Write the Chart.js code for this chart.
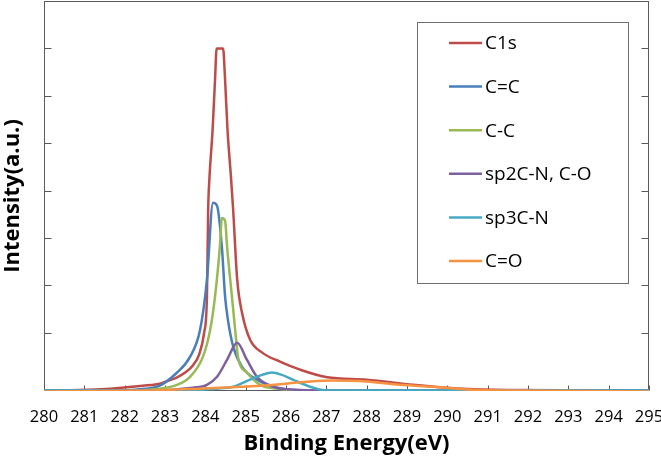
<!DOCTYPE html>
<html>
<head>
<meta charset="utf-8">
<script src="https://cdn.jsdelivr.net/npm/chart.js@4.4.1/dist/chart.umd.min.js"></script>
<style>
  html, body { margin: 0; padding: 0; background: #fff; }
</style>
</head>
<body>
<canvas id="xps" width="661" height="465"></canvas>
<script>
// XPS C1s spectrum, fitted components (intensity in arbitrary units)
var seriesNames = ['C1s', 'C=C', 'C-C', 'sp2C-N, C-O', 'sp3C-N', 'C=O'];
var seriesColors = ['#BE4B48', '#4A7EBB', '#98B954', '#7D60A0', '#46AAC5', '#F69240'];

var energyC1s = [280.0, 280.9, 281.65, 282.45, 282.9, 283.12, 283.3, 283.5, 283.7, 283.85, 283.97, 284.04, 284.07, 284.1, 284.18, 284.24, 284.28, 284.44, 284.49, 284.55, 284.64, 284.69, 284.79, 284.91, 285.11, 285.41, 285.85, 286.35, 287.02, 288.0, 289.15, 290.5, 291.75, 295.0];
var intensityC1s = [-0.22, -0.21, -0.18, -0.12, -0.07, 0.0, 0.06, 0.16, 0.32, 0.55, 1.0, 1.76, 3.59, 4.23, 5.28, 6.33, 7.0, 7.0, 6.33, 5.28, 4.23, 3.59, 2.12, 1.42, 0.85, 0.58, 0.39, 0.22, 0.06, 0.01, -0.1, -0.19, -0.21, -0.22];

var energyCC2 = [280.0, 281.65, 282.8, 283.3, 283.62, 283.87, 284.04, 284.19, 284.29, 284.41, 284.49, 284.56, 284.69, 284.91, 285.28, 285.78, 286.35, 295.0];
var intensityCC2 = [-0.22, -0.22, -0.14, 0.16, 0.49, 1.06, 2.12, 3.74, 3.68, 2.81, 1.76, 1.27, 0.71, 0.28, 0.01, -0.16, -0.22, -0.22];

var energyCC1 = [280.0, 281.9, 282.88, 283.3, 283.62, 283.94, 284.12, 284.24, 284.36, 284.41, 284.49, 284.54, 284.66, 284.74, 284.81, 285.03, 285.36, 285.78, 286.6, 295.0];
var intensityCC1 = [-0.22, -0.22, -0.18, -0.10, 0.07, 0.49, 1.06, 1.76, 2.81, 3.42, 3.36, 2.81, 1.76, 1.06, 0.49, 0.16, -0.10, -0.18, -0.22, -0.22];

var energySp2 = [280.0, 282.6, 283.69, 284.04, 284.29, 284.54, 284.79, 285.03, 285.28, 285.68, 286.17, 287.1, 295.0];
var intensitySp2 = [-0.22, -0.22, -0.16, -0.10, 0.07, 0.43, 0.79, 0.43, 0.07, -0.14, -0.20, -0.22, -0.22];

var energySp3 = [280.0, 283.4, 284.29, 284.69, 285.11, 285.41, 285.65, 285.9, 286.17, 286.6, 287.02, 295.0];
var intensitySp3 = [-0.22, -0.22, -0.18, -0.14, 0.01, 0.11, 0.16, 0.11, 0.01, -0.14, -0.22, -0.22];

var energyCO = [280.0, 282.6, 283.87, 284.93, 285.93, 286.6, 287.17, 288.0, 288.83, 289.65, 290.5, 291.55, 295.0];
var intensityCO = [-0.24, -0.22, -0.18, -0.14, -0.08, -0.03, -0.01, -0.03, -0.10, -0.14, -0.20, -0.22, -0.24];

var xTicks = { min: 280, max: 295, step: 1 };
var yTicks = { min: -0.23, max: 8, step: 1 };

var energies = [energyC1s, energyCC2, energyCC1, energySp2, energySp3, energyCO];
var intensities = [intensityC1s, intensityCC2, intensityCC1, intensitySp2, intensitySp3, intensityCO];

function toPoints(xs, ys) {
  return xs.map(function (x, i) { return { x: x, y: ys[i] }; });
}

var datasets = seriesNames.map(function (name, i) {
  return {
    label: name,
    data: toPoints(energies[i], intensities[i]),
    borderColor: seriesColors[i],
    backgroundColor: seriesColors[i],
    borderWidth: 2.5,
    pointRadius: 0,
    cubicInterpolationMode: 'monotone',
    fill: false,
    order: seriesNames.length - i   // later series painted on top, as in the original
  };
});

// plot frame plus inward tick marks
var framePlugin = {
  id: 'frame',
  beforeDatasetsDraw: function (chart) {
    var ctx = chart.ctx, a = chart.chartArea;
    var xs = chart.scales.x, ys = chart.scales.y;
    var l = Math.round(a.left) + 0.5, r = Math.round(a.right) - 0.5;
    var t = Math.round(a.top) + 0.5, b = Math.round(a.bottom) - 0.5;
    ctx.save();
    ctx.strokeStyle = '#5a5a5a';
    ctx.lineWidth = 1;
    ctx.strokeRect(l, t, r - l, b - t);
    ctx.beginPath();
    xs.ticks.forEach(function (tk) {
      var px = Math.round(xs.getPixelForValue(tk.value)) + 0.5;
      ctx.moveTo(px, b); ctx.lineTo(px, b - 5);
    });
    ys.ticks.forEach(function (tk) {
      if (tk.value < 1 || tk.value >= ys.max) return;
      var py = Math.round(ys.getPixelForValue(tk.value)) + 0.5;
      ctx.moveTo(l, py); ctx.lineTo(l + 7, py);
      ctx.moveTo(r, py); ctx.lineTo(r - 7, py);
    });
    ctx.stroke();
    ctx.restore();
  }
};

// boxed legend inside the plot, top right
var boxLegend = {
  id: 'boxLegend',
  afterDraw: function (chart) {
    var ctx = chart.ctx;
    var bx = 417.5, by = 22.5, bw = 211, bh = 261;
    ctx.save();
    ctx.fillStyle = '#fff';
    ctx.fillRect(bx, by, bw, bh);
    ctx.strokeStyle = '#6e6e6e';
    ctx.lineWidth = 1;
    ctx.strokeRect(bx, by, bw, bh);
    ctx.font = '19px "Open Sans"';
    ctx.textBaseline = 'middle';
    ctx.fillStyle = '#000';
    chart.data.datasets.forEach(function (ds, i) {
      var y = 43 + i * 43.6;
      ctx.strokeStyle = ds.borderColor;
      ctx.lineWidth = 2.5;
      ctx.beginPath();
      ctx.moveTo(449, y); ctx.lineTo(482, y);
      ctx.stroke();
      ctx.fillText(ds.label, 485, y + 1);
    });
    ctx.restore();
  }
};

new Chart(document.getElementById('xps'), {
  type: 'line',
  data: { datasets: datasets },
  options: {
    responsive: false,
    animation: false,
    devicePixelRatio: 1,
    layout: { padding: { left: 0, right: 12, top: 1, bottom: 0 } },
    plugins: {
      legend: { display: false },
      tooltip: { enabled: false }
    },
    scales: {
      x: {
        type: 'linear',
        min: xTicks.min,
        max: xTicks.max,
        border: { display: false },
        grid: { display: false, drawTicks: false },
        ticks: {
          stepSize: xTicks.step,
          autoSkip: false,
          maxRotation: 0,
          padding: 16,
          color: '#000',
          font: { family: 'Open Sans', size: 16.5 }
        },
        title: {
          display: true,
          text: 'Binding Energy(eV)',
          color: '#000',
          font: { family: 'Open Sans', size: 22, weight: 'bold' },
          padding: { top: 0, bottom: 8 }
        },
        afterFit: function (scale) {
          scale.height = 74;
          scale.paddingLeft = 0;
          scale.paddingRight = 0;
        }
      },
      y: {
        type: 'linear',
        min: yTicks.min,
        max: yTicks.max,
        border: { display: false },
        grid: { display: false, drawTicks: false },
        ticks: { display: false, stepSize: yTicks.step },
        title: {
          display: true,
          text: 'Intensity(a.u.)',
          color: '#000',
          font: { family: 'Open Sans', size: 22, weight: 'bold' },
          padding: { top: 0, bottom: 0 }
        },
        afterFit: function (scale) {
          scale.width = 44;
          scale.paddingTop = 0;
          scale.paddingBottom = 0;
        }
      }
    }
  },
  plugins: [framePlugin, boxLegend]
});
</script>
</body>
</html>
